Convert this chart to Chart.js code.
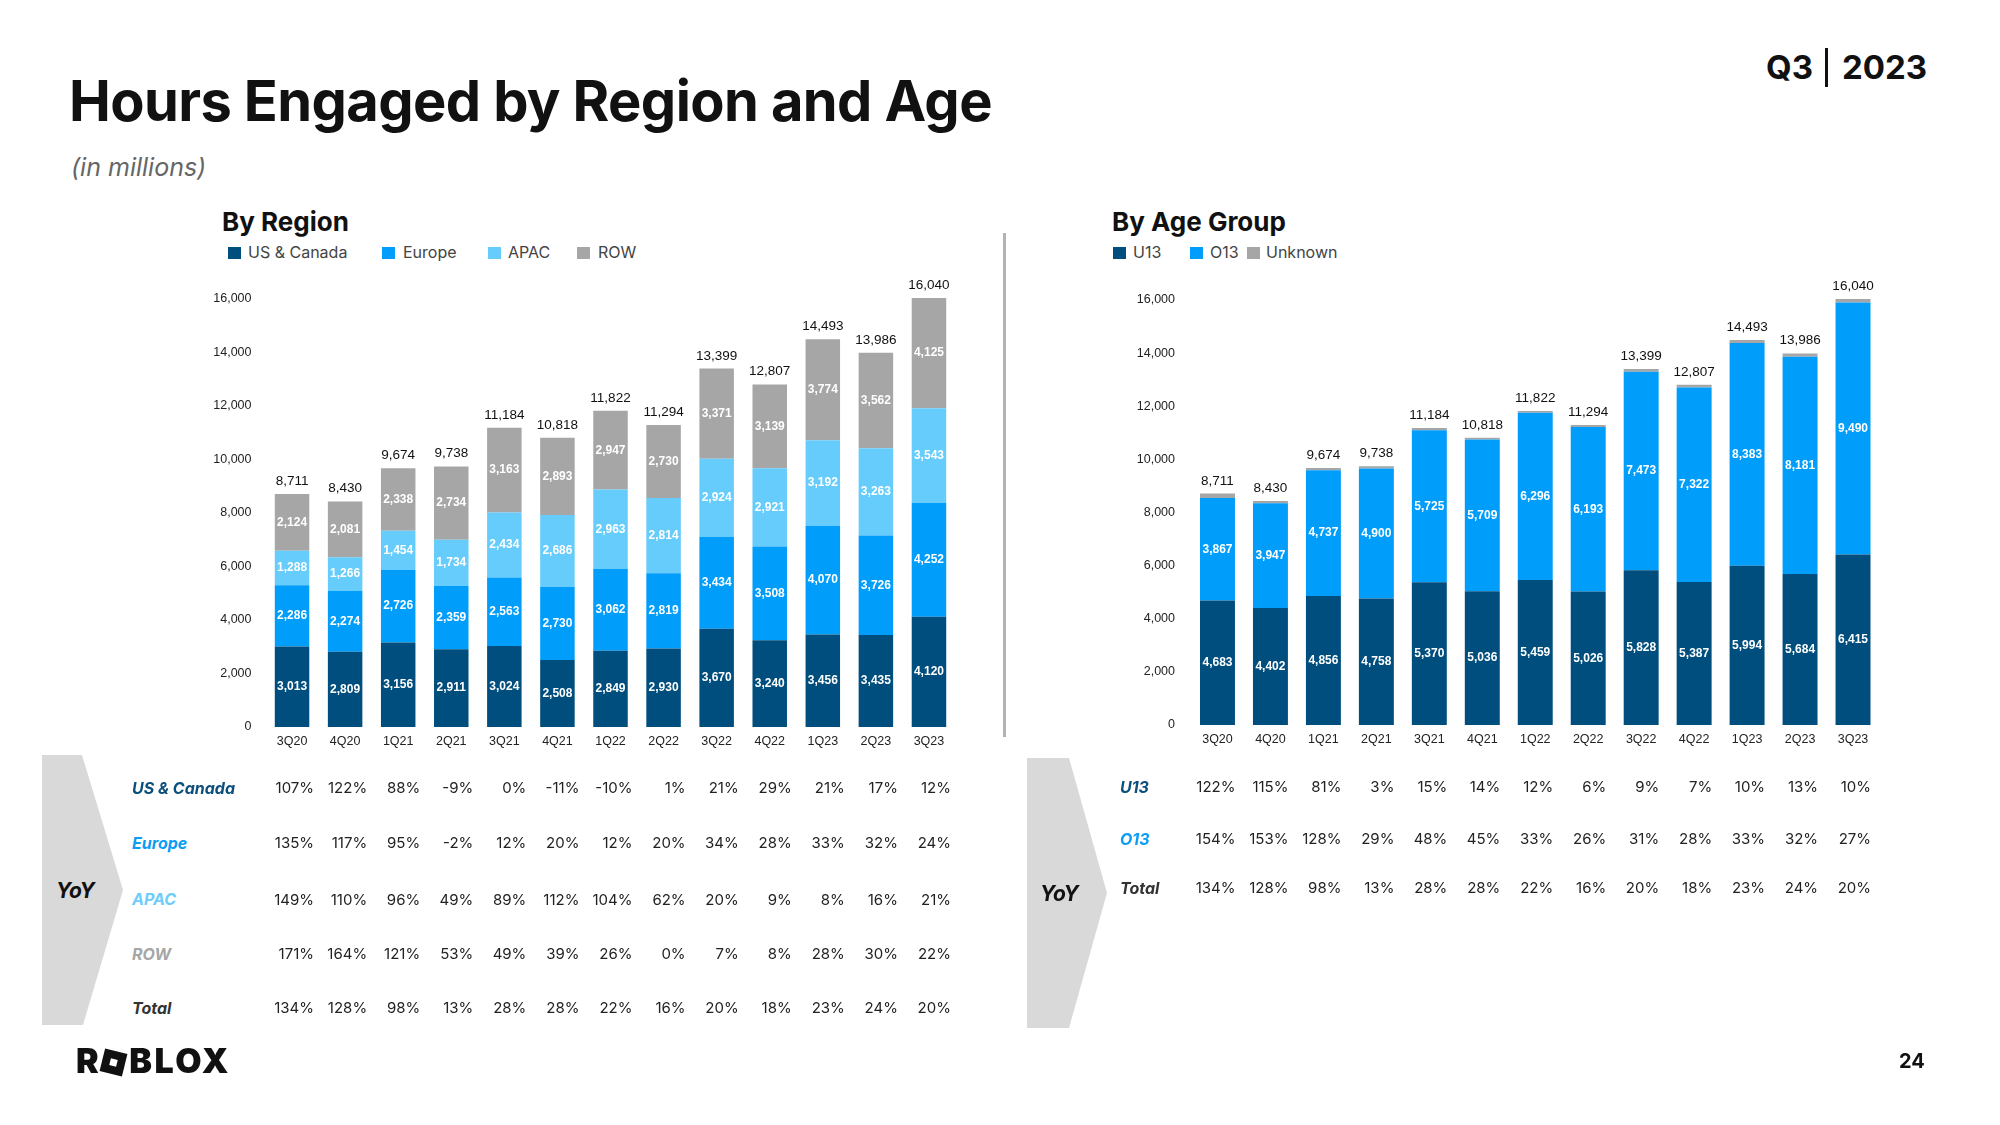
<!DOCTYPE html>
<html>
<head>
<meta charset="utf-8">
<script src="https://cdn.jsdelivr.net/npm/chart.js@4.4.0/dist/chart.umd.min.js"></script>
<style>
  body { margin: 0; width: 2000px; height: 1125px; position: relative; background: #fff; overflow: hidden;
         font-family: Inter, 'Noto Sans', sans-serif; color: #111; }
  .abs { position: absolute; white-space: nowrap; line-height: 1; }
  .sq { position: absolute; width: 13px; height: 12px; }
  .legend { font-size: 16px; color: #444; }
  .chev { position: absolute; background: #d9d9d9; }
  .rowlab { font-size: 16px; font-weight: 700; font-style: italic; }
  .yoy { font-size: 21px; font-weight: 700; font-style: italic; color: #111; }
  canvas { position: absolute; }
</style>
</head>
<body>

<div class="abs" style="left:69px;top:73px;font-size:56px;font-weight:700;letter-spacing:-0.6px;">Hours Engaged by Region and Age</div>
<div class="abs" style="left:71px;top:155px;font-size:25px;font-style:italic;color:#666;">(in millions)</div>

<div class="abs" style="left:1766px;top:51px;font-size:33px;font-weight:700;">Q3</div>
<div class="abs" style="left:1825px;top:48px;width:3px;height:39px;background:#111;"></div>
<div class="abs" style="left:1842px;top:51px;font-size:33px;font-weight:700;">2023</div>

<!-- left header + legend -->
<div class="abs" style="left:222px;top:209px;font-size:26px;font-weight:700;">By Region</div>
<div class="sq" style="left:228px;top:247px;background:#004e7d;"></div>
<div class="abs legend" style="left:248px;top:244px;">US &amp; Canada</div>
<div class="sq" style="left:382px;top:247px;background:#009dfa;"></div>
<div class="abs legend" style="left:403px;top:244px;">Europe</div>
<div class="sq" style="left:488px;top:247px;background:#66ccfc;"></div>
<div class="abs legend" style="left:508px;top:244px;">APAC</div>
<div class="sq" style="left:577px;top:247px;background:#a6a6a6;"></div>
<div class="abs legend" style="left:598px;top:244px;">ROW</div>

<!-- right header + legend -->
<div class="abs" style="left:1112px;top:209px;font-size:26px;font-weight:700;">By Age Group</div>
<div class="sq" style="left:1113px;top:247px;background:#004e7d;"></div>
<div class="abs legend" style="left:1133px;top:244px;">U13</div>
<div class="sq" style="left:1190px;top:247px;background:#009dfa;"></div>
<div class="abs legend" style="left:1210px;top:244px;">O13</div>
<div class="sq" style="left:1247px;top:247px;background:#a6a6a6;"></div>
<div class="abs legend" style="left:1266px;top:244px;">Unknown</div>

<div class="abs" style="left:1003px;top:233px;width:3px;height:504px;background:#b3b3b3;"></div>

<canvas id="regionChart" width="780" height="780" style="left:200px;top:270px;"></canvas>
<canvas id="ageChart" width="900" height="780" style="left:1020px;top:270px;"></canvas>

<!-- YoY left -->
<div class="chev" style="left:42px;top:755px;width:81px;height:270px;clip-path:polygon(0 0,40px 0,81px 135px,41px 270px,0 270px);"></div>
<div class="abs yoy" style="left:56px;top:880px;">YoY</div>
<div class="abs rowlab" style="left:132px;top:780px;color:#0b4f7c;">US &amp; Canada</div>
<div class="abs rowlab" style="left:132px;top:835px;color:#0a9df5;">Europe</div>
<div class="abs rowlab" style="left:132px;top:891px;color:#6dcdfb;">APAC</div>
<div class="abs rowlab" style="left:132px;top:946px;color:#a6a6a6;">ROW</div>
<div class="abs rowlab" style="left:132px;top:1000px;color:#333;">Total</div>

<!-- YoY right -->
<div class="chev" style="left:1027px;top:758px;width:80px;height:270px;clip-path:polygon(0 0,42px 0,80px 135px,42px 270px,0 270px);"></div>
<div class="abs yoy" style="left:1040px;top:883px;">YoY</div>
<div class="abs rowlab" style="left:1120px;top:779px;color:#0b4f7c;">U13</div>
<div class="abs rowlab" style="left:1120px;top:831px;color:#0a9df5;">O13</div>
<div class="abs rowlab" style="left:1120px;top:880px;color:#333;">Total</div>

<div class="abs" style="left:76px;top:1044px;font-size:34px;font-weight:900;letter-spacing:2.5px;">R<span style="display:inline-block;width:23px;height:23px;background:#111;transform:rotate(14deg);margin:0 4px 0 1px;vertical-align:-1px;position:relative;"><span style="position:absolute;left:8px;top:8px;width:7px;height:7px;background:#fff;"></span></span>BLOX</div>
<div class="abs" style="left:1899px;top:1051px;font-size:20px;font-weight:700;">24</div>

<script>
const quarters = ['3Q20', '4Q20', '1Q21', '2Q21', '3Q21', '4Q21', '1Q22', '2Q22', '3Q22', '4Q22', '1Q23', '2Q23', '3Q23'];

const usCanada = [3013, 2809, 3156, 2911, 3024, 2508, 2849, 2930, 3670, 3240, 3456, 3435, 4120];
const europe   = [2286, 2274, 2726, 2359, 2563, 2730, 3062, 2819, 3434, 3508, 4070, 3726, 4252];
const apac     = [1288, 1266, 1454, 1734, 2434, 2686, 2963, 2814, 2924, 2921, 3192, 3263, 3543];
const rowRegion = [2124, 2081, 2338, 2734, 3163, 2893, 2947, 2730, 3371, 3139, 3774, 3562, 4125];
const totals   = [8711, 8430, 9674, 9738, 11184, 10818, 11822, 11294, 13399, 12807, 14493, 13986, 16040];

const u13     = [4683, 4402, 4856, 4758, 5370, 5036, 5459, 5026, 5828, 5387, 5994, 5684, 6415];
const o13     = [3867, 3947, 4737, 4900, 5725, 5709, 6296, 6193, 7473, 7322, 8383, 8181, 9490];
const unknown = [161, 81, 81, 80, 89, 73, 67, 75, 98, 98, 116, 121, 135];

const yoyUS     = [107, 122, 88, -9, 0, -11, -10, 1, 21, 29, 21, 17, 12];
const yoyEurope = [135, 117, 95, -2, 12, 20, 12, 20, 34, 28, 33, 32, 24];
const yoyAPAC   = [149, 110, 96, 49, 89, 112, 104, 62, 20, 9, 8, 16, 21];
const yoyROW    = [171, 164, 121, 53, 49, 39, 26, 0, 7, 8, 28, 30, 22];
const yoyTotal  = [134, 128, 98, 13, 28, 28, 22, 16, 20, 18, 23, 24, 20];
const yoyU13    = [122, 115, 81, 3, 15, 14, 12, 6, 9, 7, 10, 13, 10];
const yoyO13    = [154, 153, 128, 29, 48, 45, 33, 26, 31, 28, 33, 32, 27];

const yMax = 16000;
const yStep = 2000;

const NAVY = '#004e7d', BLUE = '#009dfa', LIGHT = '#66ccfc', GRAY = '#a6a6a6';
const tickFont = { family: '"Liberation Sans", Arial, sans-serif', size: 12.5 };

// draws the in-bar values, the totals on top and the YoY rows under the axis
function makeLabelPlugin(totalVals, rows, offset) {
    return {
        id: 'barLabels',
        afterDatasetsDraw(chart) {
            const ctx = chart.ctx;
            const x = chart.scales.x, y = chart.scales.y;
            ctx.save();
            ctx.textAlign = 'center';
            ctx.textBaseline = 'middle';
            ctx.font = 'bold 12px "Liberation Sans Narrow", "Liberation Sans", sans-serif';
            ctx.fillStyle = '#fff';
            chart.data.datasets.forEach((ds, di) => {
                if (ds.noLabel) return;
                chart.getDatasetMeta(di).data.forEach((bar, i) => {
                    ctx.fillText(ds.data[i].toLocaleString('en-US'), bar.x, (bar.y + bar.base) / 2);
                });
            });

            ctx.font = '13.5px "Liberation Sans", Arial, sans-serif';
            ctx.fillStyle = '#111';
            ctx.textBaseline = 'bottom';
            totalVals.forEach((t, i) => {
                ctx.fillText(t.toLocaleString('en-US'), x.getPixelForValue(i), y.getPixelForValue(t) - 6);
            });

            ctx.font = '15px Inter, "Noto Sans", sans-serif';
            ctx.fillStyle = '#222';
            ctx.textAlign = 'right';
            ctx.textBaseline = 'middle';
            rows.forEach(r => {
                r.values.forEach((v, i) => {
                    ctx.fillText(v + '%', x.getPixelForValue(i) + offset, r.y);
                });
            });
            ctx.restore();
        }
    };
}

function makeChart(id, datasets, geo, rows, offset) {
    const ctx = document.getElementById(id).getContext('2d');
    return new Chart(ctx, {
        type: 'bar',
        data: { labels: quarters, datasets: datasets },
        options: {
            responsive: false,
            animation: false,
            layout: { padding: { top: geo.top, right: geo.right, bottom: geo.bottom, left: 0 } },
            plugins: { legend: { display: false }, tooltip: { enabled: false } },
            scales: {
                x: {
                    stacked: true,
                    grid: { display: false, drawTicks: false },
                    border: { display: false },
                    ticks: { font: tickFont, color: '#222', padding: 7, maxRotation: 0, autoSkip: false },
                    afterFit(s) { s.height = 40; }
                },
                y: {
                    stacked: true,
                    min: 0,
                    max: yMax,
                    grid: { display: false, drawTicks: false },
                    border: { display: false },
                    ticks: {
                        stepSize: yStep,
                        padding: geo.tickPad,
                        font: tickFont,
                        color: '#222',
                        callback: v => v.toLocaleString('en-US')
                    },
                    afterFit(s) { s.width = geo.axisW; }
                }
            }
        },
        plugins: [makeLabelPlugin(totals, rows, offset)]
    });
}

function barSet(label, data, color, pct, noLabel) {
    return {
        label: label,
        data: data,
        backgroundColor: color,
        borderWidth: 0,
        categoryPercentage: 1,
        barPercentage: pct,
        clip: false,
        noLabel: !!noLabel
    };
}

makeChart('regionChart', [
    barSet('US & Canada', usCanada, NAVY, 0.65),
    barSet('Europe', europe, BLUE, 0.65),
    barSet('APAC', apac, LIGHT, 0.65),
    barSet('ROW', rowRegion, GRAY, 0.65)
], { top: 29, right: 24.5, bottom: 283, axisW: 65.5, tickPad: 14 }, [
    { y: 518, values: yoyUS },
    { y: 573, values: yoyEurope },
    { y: 630, values: yoyAPAC },
    { y: 684, values: yoyROW },
    { y: 738, values: yoyTotal }
], 22);

makeChart('ageChart', [
    barSet('U13', u13, NAVY, 0.66),
    barSet('O13', o13, BLUE, 0.66),
    barSet('Unknown', unknown, GRAY, 0.66, true)
], { top: 30, right: 40.5, bottom: 285, axisW: 171, tickPad: 16 }, [
    { y: 517, values: yoyU13 },
    { y: 569, values: yoyO13 },
    { y: 618, values: yoyTotal }
], 18);
</script>
</body>
</html>
